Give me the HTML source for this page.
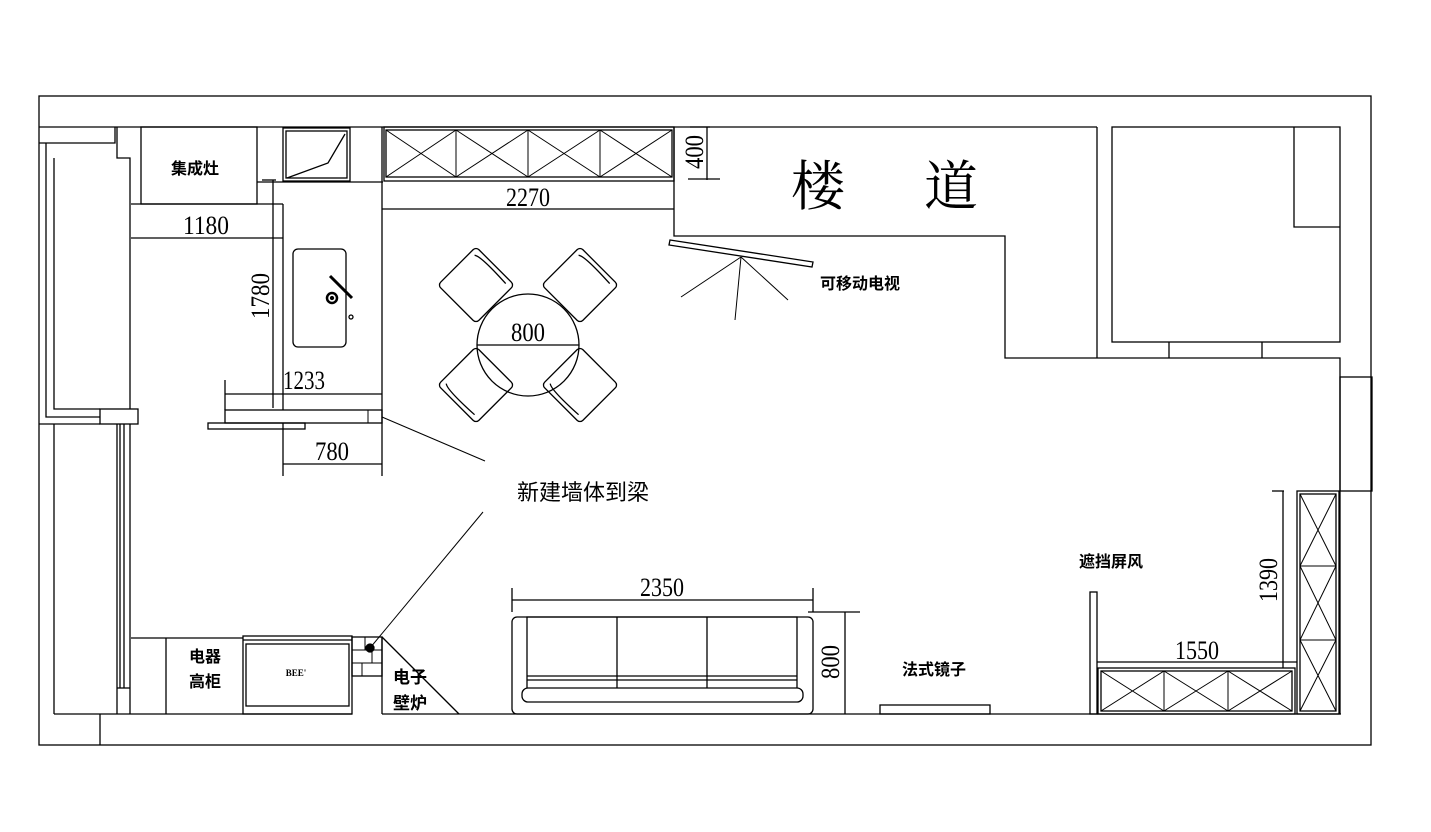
<!DOCTYPE html>
<html><head><meta charset="utf-8"><style>
html,body{margin:0;padding:0;background:#fff;}
svg{display:block;}
text{font-family:"Liberation Serif","Noto Serif CJK SC",serif;fill:#000;}
.cj{font-family:"Liberation Sans","Noto Sans CJK SC",sans-serif;font-weight:bold;}
.d{font-family:"Liberation Serif",serif;font-size:26px;}
</style></head><body>
<svg width="1431" height="832" viewBox="0 0 1431 832" xmlns="http://www.w3.org/2000/svg">
<g fill="none" stroke="#000" stroke-width="1.3">
<rect x="39" y="96" width="1332" height="649"/>
<polyline points="39,127 1097,127"/>
<polyline points="1097,127 1097,358"/>
<polyline points="39,143 115,143 115,127"/>
<polyline points="117,127 117,158 130,158 130,409"/>
<polyline points="46,143 46,417 100,417"/>
<polyline points="54,158 54,409 100,409"/>
<rect x="100" y="409" width="38" height="15"/>
<polyline points="39,424 100,424"/>
<line x1="54" y1="424" x2="54" y2="714"/>
<line x1="117" y1="424" x2="117" y2="714"/>
<line x1="120" y1="424" x2="120" y2="688"/>
<line x1="124" y1="424" x2="124" y2="688"/>
<line x1="130" y1="424" x2="130" y2="714"/>
<line x1="117" y1="688" x2="130" y2="688"/>
<line x1="100" y1="714" x2="100" y2="745"/>
<line x1="54" y1="714" x2="352" y2="714"/>
<line x1="382" y1="714" x2="1341" y2="714"/>
<rect x="141" y="127" width="116" height="77"/>
<line x1="131" y1="204" x2="283" y2="204"/>
<line x1="283" y1="204" x2="283" y2="410"/>
<line x1="257" y1="182" x2="383" y2="182"/>
<rect x="283" y="128" width="67" height="53"/>
<rect x="286" y="131" width="61" height="47"/>
<polyline points="287,178 328,163 345,134"/>
<line x1="382" y1="127" x2="382" y2="423"/>
<rect x="384" y="127" width="290" height="54"/>
<rect x="386" y="130" width="286" height="47"/>
<g stroke-width="1">
<line x1="456" y1="130" x2="456" y2="177"/><line x1="528" y1="130" x2="528" y2="177"/><line x1="600" y1="130" x2="600" y2="177"/>
<path d="M386,130 L456,177 M456,130 L386,177 M456,130 L528,177 M528,130 L456,177 M528,130 L600,177 M600,130 L528,177 M600,130 L672,177 M672,130 L600,177"/>
</g>
<polyline points="674,127 674,236 1005,236 1005,358 1340,358 1340,714"/>
<rect x="1112" y="127" width="228" height="215"/>
<polyline points="1294,127 1294,227 1340,227"/>
<line x1="1169" y1="342" x2="1169" y2="358"/><line x1="1262" y1="342" x2="1262" y2="358"/>
<rect x="1340" y="377" width="32" height="114"/>
<line x1="382" y1="209" x2="674" y2="209"/>
<line x1="707" y1="127" x2="707" y2="180"/><line x1="690" y1="127" x2="710" y2="127"/><line x1="688" y1="179" x2="720" y2="179"/>
<line x1="131" y1="238" x2="283" y2="238"/>
<line x1="273" y1="180" x2="273" y2="408"/><line x1="262" y1="180" x2="276" y2="180"/>
<line x1="225" y1="394" x2="382" y2="394"/><line x1="225" y1="380" x2="225" y2="410"/>
<rect x="225" y="410" width="157" height="13"/>
<rect x="208" y="423" width="97" height="6"/>
<rect x="368" y="410" width="14" height="13" stroke-width="1"/>
<line x1="283" y1="423" x2="283" y2="476"/><line x1="382" y1="423" x2="382" y2="476"/>
<line x1="283" y1="464" x2="382" y2="464"/>
<rect x="293" y="249" width="53" height="98" rx="5"/>
<line x1="330" y1="276" x2="352" y2="298" stroke-width="3"/>
<circle cx="332" cy="298" r="5" stroke-width="2.5"/>
<circle cx="332" cy="298" r="1.5" fill="#000"/>
<circle cx="351" cy="317" r="2"/>
<line x1="382" y1="417" x2="485" y2="461" stroke-width="1"/>
<line x1="370" y1="648" x2="483" y2="512" stroke-width="1"/>
<circle cx="528" cy="345" r="51"/>
<line x1="477" y1="345" x2="579" y2="345"/>
<g transform="translate(476,285) rotate(45)"><rect x="-27" y="-27" width="54" height="54" rx="4"/><path d="M-22,-20 Q-18,-24 20,-22"/></g>
<g transform="translate(580,285) rotate(45)"><rect x="-27" y="-27" width="54" height="54" rx="4"/><path d="M-22,-20 Q-18,-24 20,-22"/></g>
<g transform="translate(476,385) rotate(45)"><rect x="-27" y="-27" width="54" height="54" rx="4"/><path d="M-22,20 Q-18,24 20,22"/></g>
<g transform="translate(580,385) rotate(45)"><rect x="-27" y="-27" width="54" height="54" rx="4"/><path d="M-22,20 Q-18,24 20,22"/></g>
<polygon points="670,240 813,262 812,267 669,245"/>
<line x1="741" y1="257" x2="681" y2="297" stroke-width="1"/>
<line x1="741" y1="257" x2="735" y2="320" stroke-width="1"/>
<line x1="741" y1="257" x2="788" y2="300" stroke-width="1"/>
<line x1="131" y1="638" x2="243" y2="638"/>
<line x1="166" y1="638" x2="166" y2="714"/>
<rect x="243" y="636" width="109" height="78"/>
<rect x="246" y="644" width="103" height="62"/>
<line x1="243" y1="640" x2="352" y2="640"/>
<rect x="352" y="637" width="30" height="39"/>
<path d="M352,650 H382 M352,663 H382 M365,637 V650 M372,650 V663 M362,663 V676" stroke-width="1"/>
<circle cx="370" cy="648" r="4" fill="#000"/>
<line x1="382" y1="637" x2="382" y2="714"/>
<line x1="382" y1="637" x2="459" y2="714"/>
<line x1="512" y1="600" x2="813" y2="600"/><line x1="512" y1="588" x2="512" y2="612"/><line x1="813" y1="588" x2="813" y2="612"/>
<rect x="512" y="617" width="301" height="97" rx="5"/>
<path d="M527,688 V617 H797 V688 M617,617 V688 M707,617 V688 M527,676 H797 M527,680 H797"/>
<rect x="522" y="688" width="281" height="14" rx="6"/>
<line x1="845" y1="612" x2="845" y2="714"/><line x1="808" y1="612" x2="860" y2="612"/>
<rect x="880" y="705" width="110" height="9"/>
<rect x="1090" y="592" width="7" height="122"/>
<line x1="1097" y1="662" x2="1297" y2="662"/>
<line x1="1283" y1="491" x2="1283" y2="668"/><line x1="1272" y1="491" x2="1284" y2="491"/>
<rect x="1098" y="668" width="197" height="46"/>
<rect x="1101" y="671" width="191" height="40"/>
<path d="M1164,671 V711 M1228,671 V711 M1101,671 L1164,711 M1164,671 L1101,711 M1164,671 L1228,711 M1228,671 L1164,711 M1228,671 L1292,711 M1292,671 L1228,711" stroke-width="1"/>
<rect x="1297" y="491" width="42" height="223"/>
<rect x="1300" y="494" width="36" height="217"/>
<path d="M1300,566 H1336 M1300,640 H1336 M1300,494 L1336,566 M1336,494 L1300,566 M1300,566 L1336,640 M1336,566 L1300,640 M1300,640 L1336,711 M1336,640 L1300,711" stroke-width="1"/>
</g>
<text class="cj" x="195" y="174" font-size="16" text-anchor="middle">集成灶</text>
<text class="d" x="206" y="234" text-anchor="middle" textLength="46" lengthAdjust="spacingAndGlyphs">1180</text>
<text class="d" transform="translate(269,296) rotate(-90)" text-anchor="middle" textLength="46" lengthAdjust="spacingAndGlyphs">1780</text>
<text class="d" x="304" y="389" text-anchor="middle" textLength="42" lengthAdjust="spacingAndGlyphs">1233</text>
<text class="d" x="332" y="460" text-anchor="middle" textLength="34" lengthAdjust="spacingAndGlyphs">780</text>
<text class="d" x="528" y="206" text-anchor="middle" textLength="44" lengthAdjust="spacingAndGlyphs">2270</text>
<text class="d" x="528" y="341" text-anchor="middle" textLength="34" lengthAdjust="spacingAndGlyphs">800</text>
<text class="d" transform="translate(703,152) rotate(-90)" text-anchor="middle" textLength="34" lengthAdjust="spacingAndGlyphs">400</text>
<text x="818" y="205" font-size="54" text-anchor="middle" style="font-family:'Noto Serif CJK SC',serif">楼</text>
<text x="951" y="205" font-size="54" text-anchor="middle" style="font-family:'Noto Serif CJK SC',serif">道</text>
<text class="cj" x="860" y="289" font-size="16" text-anchor="middle">可移动电视</text>
<text x="583" y="500" font-size="22" text-anchor="middle" style="font-family:'Liberation Sans','Noto Sans CJK SC',sans-serif">新建墙体到梁</text>
<text class="cj" x="1111" y="567" font-size="16" text-anchor="middle">遮挡屏风</text>
<text class="d" transform="translate(1277,580) rotate(-90)" text-anchor="middle" textLength="44" lengthAdjust="spacingAndGlyphs">1390</text>
<text class="d" x="1197" y="659" text-anchor="middle" textLength="44" lengthAdjust="spacingAndGlyphs">1550</text>
<text class="d" x="662" y="596" text-anchor="middle" textLength="44" lengthAdjust="spacingAndGlyphs">2350</text>
<text class="d" transform="translate(839,662) rotate(-90)" text-anchor="middle" textLength="34" lengthAdjust="spacingAndGlyphs">800</text>
<text class="cj" x="934" y="675" font-size="16" text-anchor="middle">法式镜子</text>
<text class="cj" x="205" y="662" font-size="16" text-anchor="middle">电器</text>
<text class="cj" x="205" y="687" font-size="16" text-anchor="middle">高柜</text>
<text class="cj" x="410" y="683" font-size="17" text-anchor="middle">电子</text>
<text class="cj" x="410" y="709" font-size="17" text-anchor="middle">壁炉</text>
<text x="296" y="676" font-size="9" text-anchor="middle" font-weight="bold">BEE'</text>
</svg>
</body></html>
